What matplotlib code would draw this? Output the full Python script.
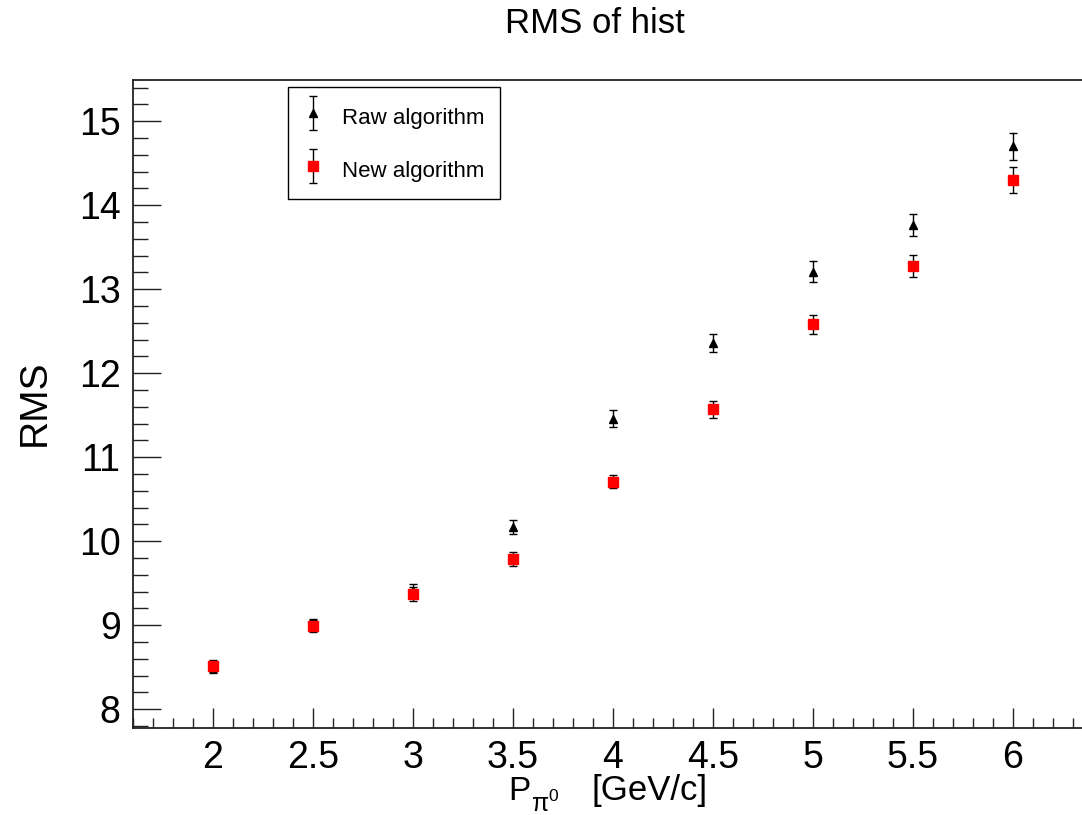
import matplotlib
matplotlib.use("Agg")
import matplotlib.pyplot as plt
from matplotlib.ticker import MultipleLocator, FuncFormatter
from matplotlib.legend_handler import HandlerErrorbar
from matplotlib.container import ErrorbarContainer

plt.rcParams['font.family'] = ['Liberation Sans', 'DejaVu Sans']
plt.rcParams['mathtext.fontset'] = 'custom'
plt.rcParams['mathtext.rm'] = 'Liberation Sans'
plt.rcParams['mathtext.it'] = 'Liberation Sans:italic'

# Data
momentum = [2.0, 2.5, 3.0, 3.5, 4.0, 4.5, 5.0, 5.5, 6.0]
raw_rms = [8.50, 9.00, 9.41, 10.17, 11.46, 12.36, 13.21, 13.76, 14.70]
raw_err = [0.07, 0.07, 0.08, 0.08, 0.10, 0.11, 0.13, 0.13, 0.16]
new_rms = [8.51, 8.99, 9.37, 9.79, 10.71, 11.57, 12.58, 13.28, 14.30]
new_err = [0.07, 0.07, 0.08, 0.08, 0.08, 0.10, 0.11, 0.13, 0.15]

W, H = 1082, 815
fig = plt.figure(figsize=(W / 100, H / 100), dpi=100)
ax = fig.add_axes([133 / W, 1 - 727.7 / H, (1093 - 133) / W, (727.7 - 80) / H])

ax.errorbar(momentum, raw_rms, yerr=raw_err, fmt='^', color='black',
            markersize=6, ecolor='black', elinewidth=1.0, capsize=2.8,
            capthick=1.0, label='Raw algorithm', zorder=2)
ax.errorbar(momentum, new_rms, yerr=new_err, fmt='s', color='#ff0000',
            markeredgecolor='#ff0000', markersize=7, ecolor='black',
            elinewidth=1.0, capsize=2.8, capthick=1.0,
            label='New algorithm', zorder=3)

ax.set_xlim(1.6, 6.4)
ax.set_ylim(7.78, 15.49)

ax.xaxis.set_major_locator(MultipleLocator(0.5))
ax.xaxis.set_minor_locator(MultipleLocator(0.1))
ax.yaxis.set_major_locator(MultipleLocator(1))
ax.yaxis.set_minor_locator(MultipleLocator(0.2))
ax.xaxis.set_major_formatter(FuncFormatter(lambda v, p: f"{v:g}"))
ax.yaxis.set_major_formatter(FuncFormatter(lambda v, p: f"{v:g}"))

ax.tick_params(axis='both', which='both', direction='in', top=False, right=False,
               labelsize=27, width=1.0, color='#222222')
ax.tick_params(axis='x', which='major', length=14.4, pad=9)
ax.tick_params(axis='x', which='minor', length=7.2)
ax.tick_params(axis='y', which='major', length=20, pad=9)
ax.tick_params(axis='y', which='minor', length=10.5)

for s in ax.spines.values():
    s.set_linewidth(1.3)
    s.set_color('#222222')

fig.text(595 / W, 1 - 23.5 / H, 'RMS of hist', ha='center', va='center', fontsize=25)
fig.text(35 / W, 1 - 403 / H, 'RMS', ha='center', va='center', rotation=90, fontsize=28)

# x-axis title: P with subscript pi^0 (lowered like the ROOT rendering)
fig.text(508 / W, 1 - 800 / H, 'P', ha='left', va='baseline', fontsize=24)
fig.text(531 / W, 1 - 812 / H, r'$\mathregular{π^0}$', ha='left', va='baseline', fontsize=18)
fig.text(592 / W, 1 - 800 / H, '[GeV/c]', ha='left', va='baseline', fontsize=25)

leg = ax.legend(loc='upper left', bbox_to_anchor=(288 / W, 1 - 87 / H),
                bbox_transform=fig.transFigure, borderaxespad=0, fontsize=16,
                frameon=True, fancybox=False, edgecolor='black', framealpha=1,
                borderpad=0.68, labelspacing=1.1, handlelength=0.87,
                handletextpad=0.88, handleheight=1.6,
                handler_map={ErrorbarContainer: HandlerErrorbar(yerr_size=0.75)})
leg.get_frame().set_linewidth(1.0)

fig.savefig('out.png', dpi=100)
